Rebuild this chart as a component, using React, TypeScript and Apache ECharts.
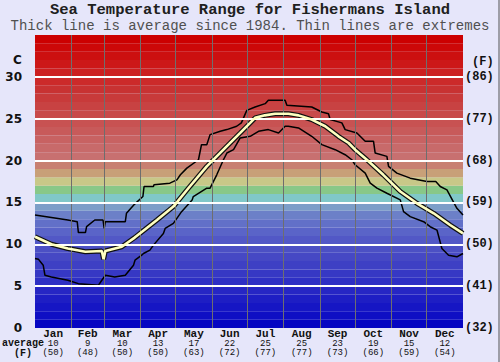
import React, { useEffect, useRef } from "react";
import * as echarts from "echarts";

const MONTHS = ["Jan", "Feb", "Mar", "Apr", "May", "Jun", "Jul", "Aug", "Sep", "Oct", "Nov", "Dec"];
const MONTH_DAYS = [31, 28, 31, 30, 31, 30, 31, 31, 30, 31, 30, 31];
const AVG_C = [10, 9, 10, 13, 17, 22, 25, 25, 23, 19, 15, 12];
const AVG_F = [50, 48, 50, 50, 63, 72, 77, 77, 73, 66, 59, 54];
const C_TICKS = [0, 5, 10, 15, 20, 25, 30];
const F_TICKS = [32, 41, 50, 59, 68, 77, 86];

// [day of year, °C]
const MAX_LINE = [
  [0, 13.5], [28, 12.9], [36, 12.7], [37, 11.4], [43, 11.4], [44, 12.1], [51, 12.9], [58, 12.9],
  [59, 11.9], [60, 12.7], [77, 12.7], [78, 13.7], [85, 14.8], [92, 15.7], [93, 16.9], [101, 16.9],
  [101.5, 17.1], [115, 17.3], [121, 17.7], [124, 18.3], [129.5, 19.1], [139.4, 20.1], [142, 21.9],
  [146.5, 21.9], [149.3, 23.1], [158, 23.5], [163.6, 23.7], [172, 24.1], [176, 24.5], [180.6, 26.0],
  [187.7, 26.4], [196.3, 26.8], [199, 27.2], [213.3, 27.2], [214.8, 26.6], [236, 26.4], [244.6, 25.8],
  [250.3, 25.6], [251.7, 24.9], [261.7, 24.5], [264.5, 23.7], [274.5, 23.3], [281.6, 22.3],
  [288.7, 22.3], [290.1, 20.9], [300.1, 20.5], [301.5, 19.3], [308.6, 18.5], [320, 17.9],
  [334.2, 17.5], [341.8, 17.5], [345.6, 16.9], [351.3, 16.5], [359.8, 14.3], [365, 13.5],
];
const MIN_LINE = [
  [0, 8.3], [3, 8.2], [7, 7.5], [8.5, 6.3], [14, 6.1], [28, 5.7], [37, 5.3], [54, 5.1], [57, 5.7],
  [60, 6.3], [68, 6.1], [77, 6.3], [84, 7.5], [85.3, 8.1], [91, 8.7], [92.5, 8.9], [98, 9.3],
  [101, 9.9], [109.5, 11.3], [111, 11.9], [118, 12.5], [121, 13.1], [125, 13.9], [134, 15.3],
  [135, 15.7], [146.5, 16.7], [149.3, 16.7], [155, 18.3], [160.7, 20.1], [163.6, 20.9], [169.3, 21.3],
  [175, 22.7], [183.5, 22.9], [190.6, 23.5], [199, 23.7], [207.7, 23.3], [213.3, 24.1], [216, 24.1],
  [224.7, 23.9], [236, 22.9], [244.6, 21.9], [256, 21.3], [264.5, 20.7], [270.2, 20.1], [273, 19.5],
  [281.6, 18.5], [285.9, 17.3], [291.6, 16.7], [300.1, 16.1], [311.5, 15.3], [314.3, 13.9],
  [320, 13.3], [331.4, 12.7], [337, 12.1], [342.8, 11.7], [347, 9.5], [352.7, 8.7], [359.8, 8.5],
  [365, 8.9],
];
const AVG_LINE = [
  [0, 10.9], [14, 10.0], [28, 9.5], [43, 9.1], [57, 9.2], [58.5, 8.2], [60, 9.2], [74, 9.7],
  [85, 10.8], [94, 11.8], [104, 12.9], [118, 14.5], [132, 16.9], [146.5, 19.3], [160.7, 21.3],
  [175, 23.3], [183.5, 24.5], [187.7, 25.1], [196, 25.4], [204.8, 25.6], [216, 25.6], [224.7, 25.4],
  [236, 24.9], [247.5, 24.1], [258.8, 22.9], [267.4, 22.1], [273, 21.3], [283, 20.1], [297, 18.3],
  [311.5, 16.3], [325.7, 14.9], [340, 13.7], [354, 12.3], [365, 11.3],
];

// one colour per 1°C band, from 0 upward
const BAND_COLORS = [
  "#0606c2", "#0e0ec4", "#1616c4", "#1e1ec4", "#2626c4", "#2e30c4", "#3638c4", "#3e40c4",
  "#4648c4", "#4c50c4", "#5258c6", "#5a64c8", "#6270c8", "#6c80c8", "#7c9ec8", "#80c8c8",
  "#88c888", "#c8c888", "#c8a078", "#c88072", "#c87070", "#c86a6a", "#c86262", "#c85a5a",
  "#c85252", "#c84a4a", "#c84242", "#c83a3a", "#c83232", "#cc2a2a", "#cc2020", "#cc1818",
  "#cc1010", "#cc0808", "#cc0000",
];

const MONO = "'Liberation Mono', 'DejaVu Sans Mono', monospace";
const SANS = "'DejaVu Sans', Verdana, sans-serif";

export default function App() {
  const ref = useRef<HTMLDivElement>(null);
  useEffect(() => {
    if (!ref.current) return;
    const chart = echarts.init(ref.current, null, { renderer: "svg" });
    const monthStarts: number[] = [];
    let acc = 0;
    MONTH_DAYS.forEach((d) => {
      monthStarts.push(acc);
      acc += d;
    });
    const monthMids = MONTH_DAYS.map((d, i) => monthStarts[i] + d / 2);
    const boundaries = monthStarts.slice(1);

    chart.setOption({
      animation: false,
      backgroundColor: "#e6e6fa",
      title: [
        {
          text: "Sea Temperature Range for Fishermans Island",
          left: "center",
          top: 2,
          padding: 0,
          textStyle: { fontFamily: MONO, fontSize: 15.5, fontWeight: "bold", color: "#202020", lineHeight: 15 },
        },
        {
          text: "Thick line is average since 1984. Thin lines are extremes",
          left: "center",
          top: 19,
          padding: 0,
          textStyle: { fontFamily: MONO, fontSize: 14, fontWeight: "normal", color: "#505050", lineHeight: 14 },
        },
      ],
      grid: { left: 35, right: 37, top: 35, bottom: 34, containLabel: false },
      xAxis: {
        type: "value",
        min: 0,
        max: 365,
        axisLine: { show: false },
        axisTick: { show: false },
        splitLine: { show: false },
        axisLabel: {
          customValues: monthMids,
          margin: 0,
          formatter: (v: number) => {
            const i = monthMids.findIndex((m) => Math.abs(m - v) < 0.01);
            if (i < 0) return "";
            return `{m|${MONTHS[i]}}\n{n|${AVG_C[i]}}\n{n|(${AVG_F[i]})}`;
          },
          rich: {
            m: { fontFamily: MONO, fontSize: 11, fontWeight: "bold", color: "#111", lineHeight: 11 },
            n: { fontFamily: MONO, fontSize: 9, color: "#111", lineHeight: 9.5 },
          },
        },
      },
      yAxis: [
        {
          type: "value",
          min: 0,
          max: 35,
          interval: 5,
          axisLine: { show: false },
          axisTick: { show: false },
          splitLine: { show: false },
          axisLabel: {
            margin: 13,
            fontFamily: SANS,
            fontWeight: "bold",
            fontSize: 12,
            color: "#111",
            formatter: (v: number) => (C_TICKS.includes(v) ? String(v) : ""),
          },
        },
        {
          type: "value",
          min: 0,
          max: 35,
          interval: 5,
          position: "right",
          axisLine: { show: false },
          axisTick: { show: false },
          splitLine: { show: false },
          axisLabel: {
            margin: 2,
            fontFamily: MONO,
            fontWeight: "bold",
            fontSize: 12,
            color: "#111",
            formatter: (v: number) => {
              const i = C_TICKS.indexOf(v);
              return i < 0 ? "" : `(${F_TICKS[i]})`;
            },
          },
        },
      ],
      graphic: [
        { type: "text", left: 13, top: 54, style: { text: "C", font: `bold 12px ${SANS}`, fill: "#111" } },
        { type: "text", left: 472, top: 56, style: { text: "(F)", font: `bold 12px ${MONO}`, fill: "#111" } },
        { type: "text", left: 2, top: 338, style: { text: "average", font: `bold 10px ${MONO}`, fill: "#111" } },
        { type: "text", left: 14, top: 348, style: { text: "(F)", font: `bold 10px ${MONO}`, fill: "#111" } },
        { type: "line", shape: { x1: 499, y1: 0, x2: 499, y2: 362 }, style: { stroke: "#555", lineWidth: 1 } },
      ],
      series: [
        {
          type: "line",
          data: [],
          z: 1,
          silent: true,
          markArea: {
            silent: true,
            data: BAND_COLORS.map((c, i) => [
              { yAxis: i, itemStyle: { color: c } },
              { yAxis: i + 1 },
            ]),
          },
        },
        {
          type: "line",
          data: [],
          z: 2,
          silent: true,
          markLine: {
            silent: true,
            symbol: "none",
            label: { show: false },
            data: [
              ...boundaries.map((b) => ({ xAxis: b, lineStyle: { color: "#6e6e6e", width: 1, type: "solid" } })),
              ...C_TICKS.filter((t) => t > 0).map((t) => ({
                yAxis: t,
                lineStyle: { color: "#ffffff", width: 2, type: "solid" },
              })),
            ],
          },
        },
        {
          type: "line",
          data: MAX_LINE,
          z: 3,
          showSymbol: false,
          lineStyle: { color: "#000", width: 1.5 },
        },
        {
          type: "line",
          data: MIN_LINE,
          z: 3,
          showSymbol: false,
          lineStyle: { color: "#000", width: 1.5 },
        },
        {
          type: "line",
          data: AVG_LINE,
          z: 4,
          showSymbol: false,
          lineStyle: { color: "#111", width: 5 },
        },
        {
          type: "line",
          data: AVG_LINE,
          z: 5,
          showSymbol: false,
          lineStyle: { color: "#ffffc0", width: 2.6 },
        },
      ],
    });
    return () => chart.dispose();
  }, []);
  return (
    <div
      ref={ref}
      style={{ position: "fixed", left: 0, top: 0, width: 500, height: 362 }}
    />
  );
}
